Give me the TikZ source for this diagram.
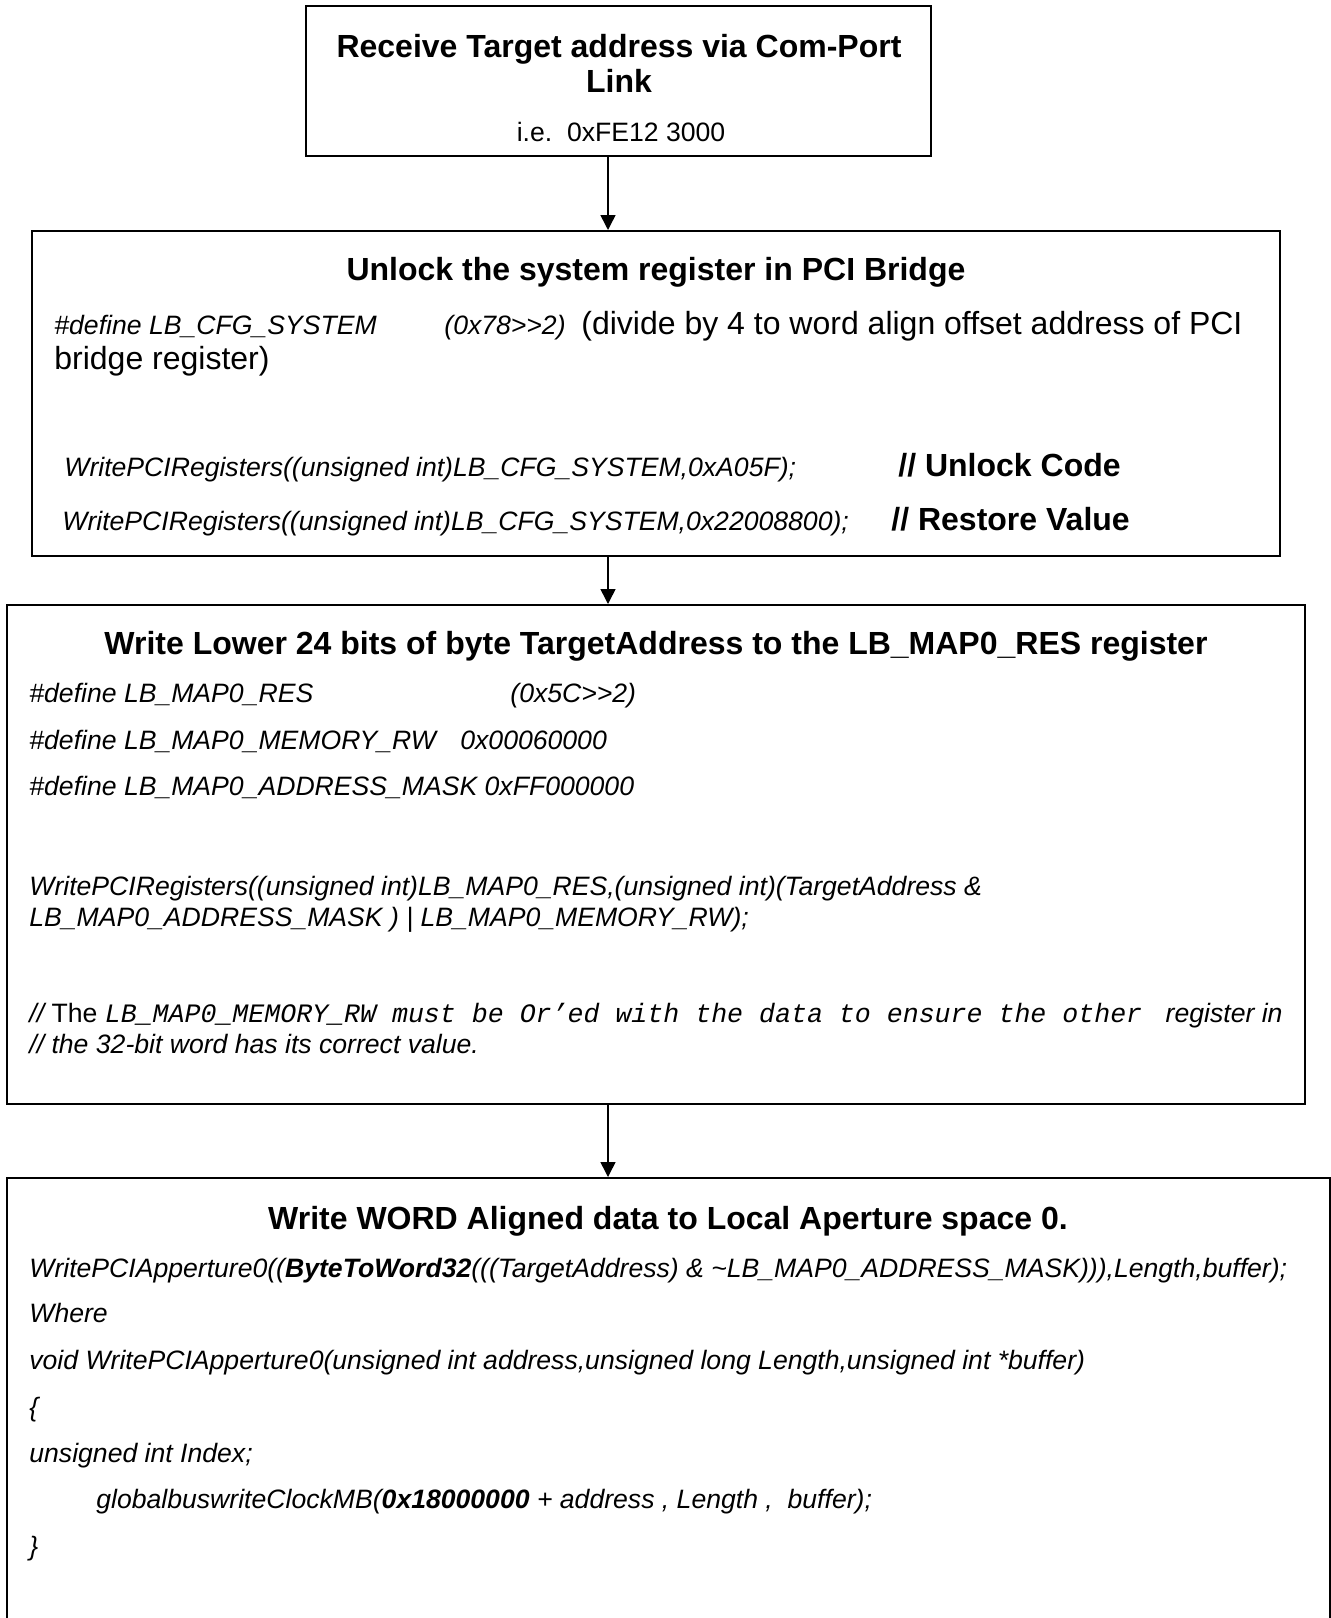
\documentclass[tikz,border=0pt]{standalone}
\usepackage{fontspec}
\setmainfont{Liberation Sans}
\setmonofont{Liberation Mono}
\usetikzlibrary{arrows.meta}

\begin{document}
\begin{tikzpicture}[x=0.5pt,y=-0.5pt,
    box/.style={draw,line width=1pt,rectangle,inner sep=0pt},
    flow/.style={line width=0.75pt,-{Triangle[length=7.5pt,width=7.5pt]}},
    title/.style={font=\fontsize{16}{17.5}\selectfont\bfseries,anchor=base,inner sep=0pt},
    plain/.style={font=\fontsize{16}{17.5}\selectfont,anchor=base west,inner sep=0pt},
    small/.style={font=\fontsize{13.3}{15}\selectfont,anchor=base,inner sep=0pt},
    code/.style={font=\fontsize{13.3}{15}\selectfont\itshape,anchor=base west,inner sep=0pt},
    remark/.style={font=\fontsize{16}{17.5}\selectfont\bfseries,anchor=base west,inner sep=0pt}]
  \clip (0,0) rectangle (1331,1618);
  \useasboundingbox (0,0) rectangle (1331,1618);
  % boxes
  \node[box,minimum width=312.5pt,minimum height=75pt] (recv) at (618.5,81) {};
  \node[box,minimum width=624pt,minimum height=162.5pt] (unlock) at (656,393.5) {};
  \node[box,minimum width=649pt,minimum height=249.5pt] (map) at (656,854.5) {};
  \node[box,minimum width=661.5pt,minimum height=230pt] (aperture) at (668.5,1408) {};
  % arrows
  \coordinate (ax) at (608,0);
  \draw[flow] (recv.south -| ax) -- (unlock.north -| ax);
  \draw[flow] (unlock.south -| ax) -- (map.north -| ax);
  \draw[flow] (map.south -| ax) -- (aperture.north -| ax);
  % receive
  \node[title] (recv1) at (619,57) {Receive Target address via Com-Port};
  \node[title] (recv2) at (619,92) {Link};
  \node[small] (recv3) at (621,141) {i.e.\ \ 0xFE12 3000};
  % unlock
  \node[title] (unlockt) at (656,280) {Unlock the system register in PCI Bridge};
  \node[code] (def1) at (54,334) {\#define LB\_CFG\_SYSTEM};
  \node[code] (def1v) at (444,334) {(0x78>{}>2)};
  \node[plain] (def1c) at (581,334) {(divide by 4 to word align offset address of PCI};
  \node[plain] (def1d) at (54,369) {bridge register)};
  \node[code] (wr1) at (64,476) {WritePCIRegisters((unsigned int)LB\_CFG\_SYSTEM,0xA05F);};
  \node[remark] (wr1c) at (898,476) {// Unlock Code};
  \node[code] (wr2) at (62,530) {WritePCIRegisters((unsigned int)LB\_CFG\_SYSTEM,0x22008800);};
  \node[remark] (wr2c) at (891,530) {// Restore Value};
  % map0
  \node[title] (mapt) at (656,654) {Write Lower 24 bits of byte TargetAddress to the LB\_MAP0\_RES register};
  \node[code] (def2) at (29,702) {\#define LB\_MAP0\_RES};
  \node[code] (def2v) at (510,702) {(0x5C>{}>2)};
  \node[code] (def3) at (29,749) {\#define LB\_MAP0\_MEMORY\_RW};
  \node[code] (def3v) at (460,749) {0x00060000};
  \node[code] (def4) at (29,795) {\#define LB\_MAP0\_ADDRESS\_MASK 0xFF000000};
  \node[code] (wr3) at (29,895) {WritePCIRegisters((unsigned int)LB\_MAP0\_RES,(unsigned int)(TargetAddress \&};
  \node[code] (wr3b) at (29,926) {LB\_MAP0\_ADDRESS\_MASK ) | LB\_MAP0\_MEMORY\_RW);};
  \node[code] (note1) at (29,1022) {// {\upshape The} \texttt{LB\_MAP0\_MEMORY\_RW must be Or’ed with the data to ensure the other\ } register in};
  \node[code] (note2) at (29,1053) {// the 32-bit word has its correct value.};
  % aperture
  \node[title] (apt) at (668,1229) {Write WORD Aligned data to Local Aperture space 0.};
  \node[code] (ap1) at (29,1277) {WritePCIApperture0((\textbf{ByteToWord32}(((TargetAddress) \& \textasciitilde LB\_MAP0\_ADDRESS\_MASK))),Length,buffer);};
  \node[code] (ap2) at (29,1322) {Where};
  \node[code] (ap3) at (29,1369) {void WritePCIApperture0(unsigned int address,unsigned long Length,unsigned int *buffer)};
  \node[code] (ap4) at (29,1416) {\{};
  \node[code] (ap5) at (29,1462) {unsigned int Index;};
  \node[code] (ap6) at (96,1508) {globalbuswriteClockMB(\textbf{0x18000000} + address , Length ,\ \ buffer);};
  \node[code] (ap7) at (29,1555) {\}};
\end{tikzpicture}
\end{document}
